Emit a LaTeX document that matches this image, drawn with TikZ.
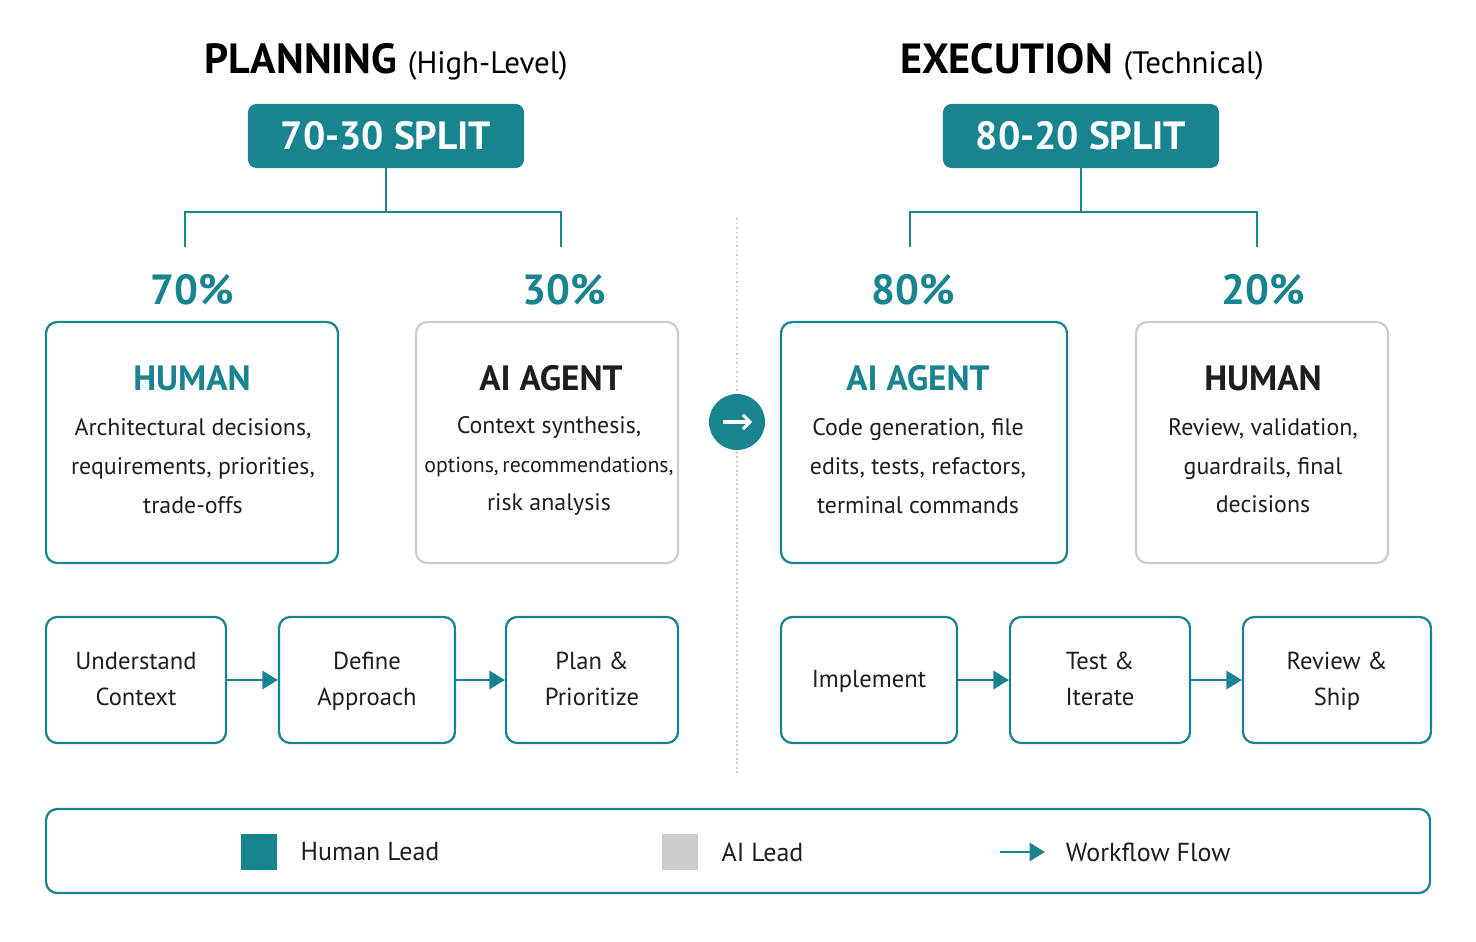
\documentclass[tikz,border=0pt]{standalone}
\usepackage{fontspec}
\setmainfont{PT Sans}
\usetikzlibrary{arrows.meta,positioning}
\definecolor{tealc}{HTML}{17848F}
\definecolor{lgray}{HTML}{CCCCCC}
\definecolor{ink}{HTML}{1E1E1E}
\tikzset{
  split/.style={rectangle, rounded corners=6pt, fill=tealc, text=white, font=\fontsize{28}{30}\selectfont\bfseries, minimum height=1.6cm},
  card/.style={rectangle, rounded corners=8pt, line width=1.6pt},
  stepbox/.style={rectangle, rounded corners=8pt, draw=tealc, line width=1.6pt, align=center, text=ink, font=\fontsize{17.5}{26}\selectfont, minimum height=3.15cm},
  pct/.style={text=tealc, font=\fontsize{30}{32}\selectfont\bfseries},
  cardtitle/.style={font=\fontsize{25}{28}\selectfont\bfseries},
  cardtext/.style={align=center, text=ink, font=\fontsize{17}{27.5}\selectfont},
  brace/.style={draw=tealc, line width=1.6pt},
  flow/.style={-{Triangle[length=11pt,width=13pt]}, draw=tealc, line width=1.6pt}
}
\begin{document}
\begin{tikzpicture}[x=0.025cm, y=-0.025cm]
\useasboundingbox (0,0) rectangle (1476,942);

% headings
\node (plan) at (386,62) {\fontsize{30}{32}\selectfont\bfseries PLANNING\ \fontsize{22}{24}\selectfont\mdseries (High-Level)};
\node (exec) at (1082,62) {\fontsize{30}{32}\selectfont\bfseries EXECUTION\ \fontsize{22}{24}\selectfont\mdseries (Technical)};

\node[split, minimum width=6.9cm] (splitA) at (386,136) {70-30 SPLIT};
\node[split, minimum width=6.9cm] (splitB) at (1081,136) {80-20 SPLIT};

\coordinate (bA) at (386,212);
\coordinate (bB) at (1081,212);
\draw[brace] (splitA.south) -- (bA);
\draw[brace] (185,247) -- (185,212) -- (561,212) -- (561,247);
\draw[brace] (splitB.south) -- (bB);
\draw[brace] (910,247) -- (910,212) -- (1257,212) -- (1257,247);

\node[pct] (p70) at (192,290) {70\%};
\node[pct] (p30) at (564,290) {30\%};
\node[pct] (p80) at (913,290) {80\%};
\node[pct] (p20) at (1263,290) {20\%};

% cards
\draw[card, draw=tealc] (46,322) rectangle (338,563);
\node[cardtitle, text=tealc] (humA) at (192,378) {HUMAN};
\node[cardtext] at (193,466) {Architectural decisions,\\ requirements, priorities,\\ trade-offs};

\draw[card, draw=lgray] (416,322) rectangle (678,563);
\node[cardtitle, text=ink] (aiA) at (551,378) {AI AGENT};
\node[cardtext] at (549,466) {Context synthesis,\\ \fontsize{15.5}{27.5}\selectfont options,\,recommendations,\\ risk analysis};

\draw[card, draw=tealc] (781,322) rectangle (1067,563);
\node[cardtitle, text=tealc] (aiB) at (918,378) {AI AGENT};
\node[cardtext] at (918,466) {Code generation, file\\ edits, tests, refactors,\\ terminal commands};

\draw[card, draw=lgray] (1136,322) rectangle (1388,563);
\node[cardtitle, text=ink] (humB) at (1263,378) {HUMAN};
\node[cardtext] at (1263,466) {Review, validation,\\ guardrails, final\\ decisions};

% divider and switch
\draw[lgray, line width=1.2pt, dotted] (737,218) -- (737,775);
\node[circle, fill=tealc, minimum size=1.4cm] (go) at (737,422) {};
\draw[white, line width=2.2pt, -{Straight Barb[length=5pt,width=10pt]}] ([xshift=-0.35cm]go.center) -- ([xshift=0.38cm]go.center);

% steps
\node[stepbox, minimum width=4.5cm] (s1) at (136,680) {\strut Understand\\ \strut Context};
\node[stepbox, minimum width=4.4cm] (s2) at (367,680) {\strut Define\\ \strut Approach};
\node[stepbox, minimum width=4.3cm] (s3) at (592,680) {\strut Plan \&\\ \strut Prioritize};
\node[stepbox, minimum width=4.4cm] (s4) at (869,680) {\strut Implement};
\node[stepbox, minimum width=4.5cm] (s5) at (1100,680) {\strut Test \&\\ \strut Iterate};
\node[stepbox, minimum width=4.7cm] (s6) at (1337,680) {\strut Review \&\\ \strut Ship};
\draw[flow] (s1) -- (s2);
\draw[flow] (s2) -- (s3);
\draw[flow] (s4) -- (s5);
\draw[flow] (s5) -- (s6);

% legend
\draw[tealc, line width=1.6pt, rounded corners=8pt] (46,809) rectangle (1430,893);
\node[fill=tealc, minimum size=0.92cm, inner sep=0pt] (lh) at (259,852) {};
\node[right=0.45cm of lh, text=ink, font=\fontsize{18.5}{22}\selectfont] {Human Lead};
\node[fill=lgray, minimum size=0.92cm, inner sep=0pt] (la) at (680,852) {};
\node[right=0.45cm of la, text=ink, font=\fontsize{18.5}{22}\selectfont] {AI Lead};
\coordinate (lf0) at (1000,852);
\coordinate (lf1) at (1045,852);
\draw[flow] (lf0) -- (lf1);
\node[right=0.4cm of lf1, text=ink, font=\fontsize{18.5}{22}\selectfont] {Workflow Flow};
\end{tikzpicture}
\end{document}
